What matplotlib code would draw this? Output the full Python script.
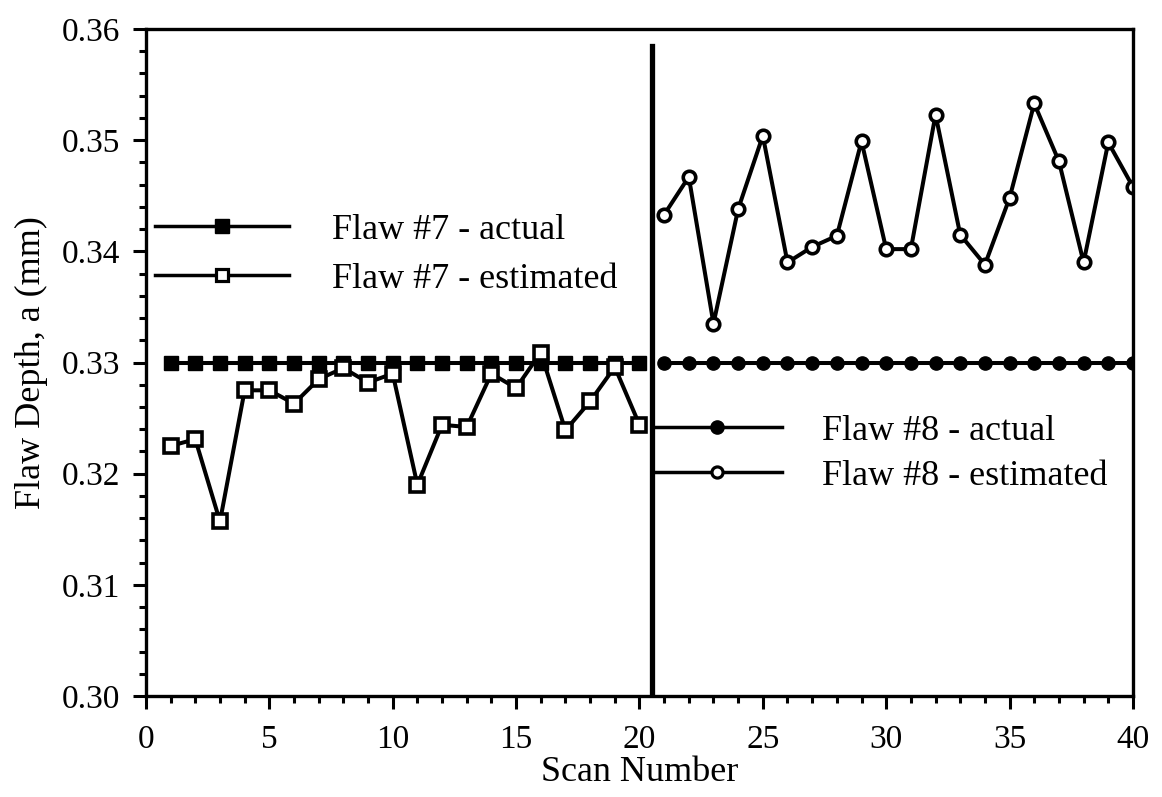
import matplotlib.pyplot as plt
from matplotlib.ticker import MultipleLocator, FormatStrFormatter
from matplotlib.lines import Line2D

plt.rcParams['font.family'] = ['Liberation Serif', 'DejaVu Serif']

# flaw #7 scans 1-20, flaw #8 scans 21-40
scan7 = list(range(1, 21))
scan8 = list(range(21, 41))
actual7 = [0.330] * 20
actual8 = [0.330] * 20
est7 = [0.3225, 0.3231, 0.3157, 0.3275, 0.3275, 0.3263, 0.3285, 0.3295, 0.3282, 0.3290,
        0.3190, 0.3244, 0.3242, 0.3290, 0.3277, 0.3309, 0.3239, 0.3265, 0.3296, 0.3244]
est8 = [0.3433, 0.3467, 0.3335, 0.3438, 0.3504, 0.3390, 0.3404, 0.3414, 0.3499, 0.3402,
        0.3402, 0.3523, 0.3415, 0.3388, 0.3448, 0.3533, 0.3481, 0.3390, 0.3498, 0.3458]
split_at = 20.5

lw = 2.9
fig = plt.figure(figsize=(11.62, 7.97), dpi=100)
ax = fig.add_axes([0.1256, 0.1267, 0.8494, 0.8369])

ax.plot(scan7, actual7, '-s', color='black', lw=lw, ms=10.5, mfc='black', mec='black')
ax.plot(scan7, est7, '-s', color='black', lw=lw, ms=9.5, mfc='white', mec='black', mew=2.6)
ax.plot(scan8, actual8, '-o', color='black', lw=lw, ms=9.5, mfc='black', mec='black')
ax.plot(scan8, est8, '-o', color='black', lw=lw, ms=9, mfc='white', mec='black', mew=2.6)

ax.axvline(split_at, ymin=0, ymax=0.975, color='black', lw=3.8)

ax.set_xlim(0, 40)
ax.set_ylim(0.30, 0.36)
ax.xaxis.set_major_locator(MultipleLocator(5))
ax.xaxis.set_minor_locator(MultipleLocator(1))
ax.yaxis.set_major_locator(MultipleLocator(0.01))
ax.yaxis.set_minor_locator(MultipleLocator(0.002))
ax.yaxis.set_major_formatter(FormatStrFormatter('%.2f'))
ax.tick_params(which='major', direction='out', length=9.5, width=2.2, labelsize=24)
ax.tick_params(axis='x', which='major', pad=11)
ax.tick_params(axis='y', which='major', pad=9)
ax.tick_params(which='minor', direction='out', length=5, width=2.2)
for s in ax.spines.values():
    s.set_linewidth(2.4)

ax.set_xlabel('Scan Number', fontsize=26, labelpad=1)
ax.set_ylabel('Flaw Depth, a (mm)', fontsize=26, labelpad=10)


def handles(marker):
    full = Line2D([], [], color='black', lw=2.5, marker=marker, ms=9.5, mfc='black')
    empty = Line2D([], [], color='black', lw=2.5, marker=marker, ms=8, mfc='white', mew=2.3)
    return [full, empty]


leg7 = ax.legend(handles('s'), ['Flaw #7 - actual', 'Flaw #7 - estimated'],
                 loc='center left', bbox_to_anchor=(0.37, 0.3397), bbox_transform=ax.transData,
                 frameon=False, fontsize=26, handlelength=3.7, handletextpad=1.2,
                 labelspacing=0.42, borderpad=0, borderaxespad=0, numpoints=1)
ax.add_artist(leg7)
ax.legend(handles('o'), ['Flaw #8 - actual', 'Flaw #8 - estimated'],
          loc='center left', bbox_to_anchor=(split_at, 0.3218), bbox_transform=ax.transData,
          frameon=False, fontsize=26, handlelength=3.6, handletextpad=1.1,
          labelspacing=0.33, borderpad=0, borderaxespad=0, numpoints=1)

plt.savefig('out.png', dpi=100)
